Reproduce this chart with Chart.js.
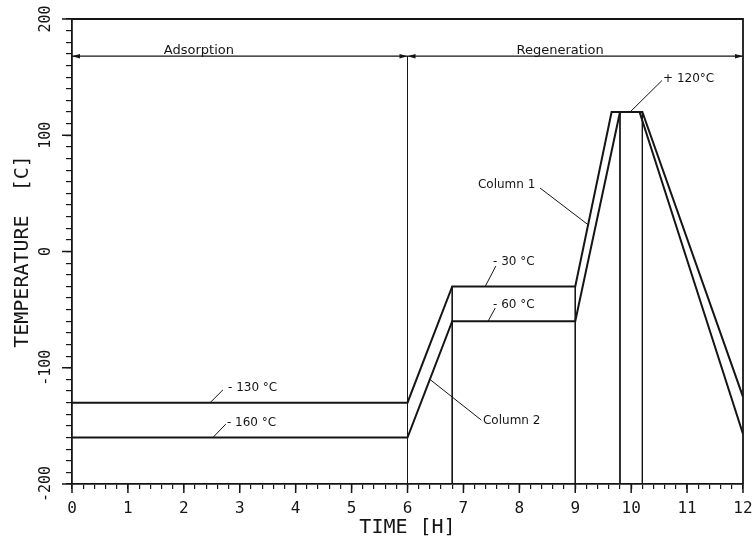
<!DOCTYPE html>
<html>
<head>
<meta charset="utf-8">
<script src="https://cdn.jsdelivr.net/npm/chart.js@4.4.0/dist/chart.umd.min.js"></script>
<style>
  html, body { margin: 0; padding: 0; background: #fff; }
</style>
</head>
<body>
<canvas id="grafico" width="752" height="541"></canvas>
<script>
// Dados (tempo em horas, temperatura em °C)
const col1X = [0, 6, 6.8, 9, 9.65, 10.2, 12];
const col1Y = [-130, -130, -30, -30, 120, 120, -125];
const col2X = [0, 6, 6.8, 9, 9.8, 10.15, 12];
const col2Y = [-160, -160, -60, -60, 120, 120, -157];

// Linhas verticais finas (x, topo)
const guiaX = [6, 6.8, 9, 9.8, 10.2];
const guiaTopo = [168, -30, -30, 120, 120];

// Faixa de fases no alto
const faseY = 168;
const faseLimites = [0, 6, 12];
const faseNomes = ['Adsorption', 'Regeneration'];
const faseTextoX = [2.27, 8.73];
const faseTextoY = 172.5;

// Rótulos dos eixos
const xTickLabels = ['0', '1', '2', '3', '4', '5', '6', '7', '8', '9', '10', '11', '12'];
const yTickLabels = { '-200': '-200', '-100': '-100', '0': '0', '100': '100', '200': '200' };

// Anotações (texto, ponto do texto, linha de chamada)
const anotTexto = ['- 130 °C', '- 160 °C', '- 30 °C', '- 60 °C', 'Column 2', 'Column 1', '+ 120°C'];
const anotX = [2.79, 2.77, 7.53, 7.53, 7.35, 7.26, 10.57];
const anotY = [-117.5, -147.5, -9, -46, -145.8, 57, 148.4];
const chamadaX = [[2.47, 2.70], [2.52, 2.75], [7.39, 7.58], [7.44, 7.57], [6.4, 7.32], [8.37, 9.23], [9.98, 10.55]];
const chamadaY = [[-130, -119], [-160, -148.5], [-30, -12.5], [-60, -48.6], [-110, -145], [54.6, 23], [120, 147]];

const PRETO = '#151515';
const MONO = '"DejaVu Sans Mono", monospace';
const SANS = '"DejaVu Sans", sans-serif';

function pontos(xs, ys) {
    return xs.map((x, i) => ({ x: x, y: ys[i] }));
}

const datasets = [];

// 1. As duas colunas
datasets.push({ label: 'Column 1', data: pontos(col1X, col1Y), borderColor: PRETO, borderWidth: 2, pointRadius: 0, tension: 0 });
datasets.push({ label: 'Column 2', data: pontos(col2X, col2Y), borderColor: PRETO, borderWidth: 2, pointRadius: 0, tension: 0 });

// 2. Linhas verticais
guiaX.forEach((gx, i) => {
    datasets.push({ label: 'guia', data: [{ x: gx, y: guiaTopo[i] }, { x: gx, y: -200 }], borderColor: PRETO, borderWidth: 1, pointRadius: 0 });
});

// 3. Linhas das fases (com setas)
for (let i = 0; i < faseLimites.length - 1; i++) {
    datasets.push({ label: 'fase', data: [{ x: faseLimites[i], y: faseY }, { x: faseLimites[i + 1], y: faseY }], borderColor: PRETO, borderWidth: 1.3, pointRadius: 0 });
}

// 4. Linhas de chamada das anotações
chamadaX.forEach((cx, i) => {
    datasets.push({ label: 'chamada', data: pontos(cx, chamadaY[i]), borderColor: PRETO, borderWidth: 1, pointRadius: 0 });
});

// Plugin com moldura, ticks maiores, setas e textos
const detalhes = {
    id: 'detalhes',
    afterDatasetsDraw(chart) {
        const ctx = chart.ctx;
        const area = chart.chartArea;
        const sx = chart.scales.x;
        const sy = chart.scales.y;
        ctx.save();
        ctx.strokeStyle = PRETO;
        ctx.fillStyle = PRETO;

        // moldura de cima e da direita
        ctx.lineWidth = 1.8;
        ctx.beginPath();
        ctx.moveTo(area.left, area.top);
        ctx.lineTo(area.right, area.top);
        ctx.lineTo(area.right, area.bottom);
        ctx.stroke();

        // ticks maiores
        ctx.lineWidth = 1.5;
        xTickLabels.forEach((t, i) => {
            const px = sx.getPixelForValue(i);
            ctx.beginPath();
            ctx.moveTo(px, area.bottom);
            ctx.lineTo(px, area.bottom + 9);
            ctx.stroke();
        });
        Object.keys(yTickLabels).forEach(k => {
            const py = sy.getPixelForValue(Number(k));
            ctx.beginPath();
            ctx.moveTo(area.left, py);
            ctx.lineTo(area.left - 10, py);
            ctx.stroke();
        });

        // setas nas linhas das fases
        chart.data.datasets.forEach((ds, di) => {
            if (ds.label !== 'fase') return;
            const pts = chart.getDatasetMeta(di).data;
            const a = pts[0], b = pts[pts.length - 1];
            seta(ctx, a.x, a.y, -1);
            seta(ctx, b.x, b.y, 1);
        });

        // textos das fases
        ctx.font = '13px ' + SANS;
        ctx.textAlign = 'center';
        ctx.textBaseline = 'middle';
        faseNomes.forEach((n, i) => {
            ctx.fillText(n, sx.getPixelForValue(faseTextoX[i]), sy.getPixelForValue(faseTextoY));
        });

        // anotações
        ctx.font = '12px ' + SANS;
        ctx.textAlign = 'left';
        anotTexto.forEach((t, i) => {
            ctx.fillText(t, sx.getPixelForValue(anotX[i]), sy.getPixelForValue(anotY[i]));
        });
        ctx.restore();
    }
};

function seta(ctx, x, y, dir) {
    // ponta no ponto (x, y), apontando para dir
    ctx.beginPath();
    ctx.moveTo(x, y);
    ctx.lineTo(x - dir * 8, y - 2.2);
    ctx.lineTo(x - dir * 8, y + 2.2);
    ctx.closePath();
    ctx.fill();
}

new Chart(document.getElementById('grafico'), {
    type: 'line',
    data: { datasets: datasets },
    options: {
        responsive: false,
        animation: false,
        layout: { padding: { left: 0, top: 19, right: 0, bottom: 0 } },
        plugins: { legend: { display: false }, tooltip: { enabled: false } },
        scales: {
            x: {
                type: 'linear',
                min: 0,
                max: 12,
                afterFit: s => { s.height = 57; s.paddingRight = 9; },
                border: { display: true, color: PRETO, width: 1.8 },
                grid: { drawOnChartArea: false, drawTicks: true, tickLength: 5, color: PRETO, lineWidth: 1.2 },
                ticks: {
                    stepSize: 0.2,
                    autoSkip: false,
                    maxRotation: 0,
                    minRotation: 0,
                    padding: 10,
                    color: PRETO,
                    font: { family: MONO, size: 16 },
                    callback: v => {
                        const r = Math.round(v);
                        return Math.abs(v - r) < 1e-6 ? xTickLabels[r] : '';
                    }
                },
                title: { display: true, text: 'TIME [H]', color: PRETO, font: { family: MONO, size: 20 }, padding: { top: 0, bottom: 1 } }
            },
            y: {
                type: 'linear',
                min: -200,
                max: 200,
                afterFit: s => { s.width = 72; },
                border: { display: true, color: PRETO, width: 1.8 },
                grid: { drawOnChartArea: false, drawTicks: true, tickLength: 6, color: PRETO, lineWidth: 1.2 },
                ticks: {
                    stepSize: 10,
                    autoSkip: false,
                    minRotation: 90,
                    maxRotation: 90,
                    crossAlign: 'center',
                    padding: 2,
                    color: PRETO,
                    font: { family: MONO, size: 15 },
                    callback: v => {
                        const r = Math.round(v);
                        return (r % 100 === 0 && yTickLabels[String(r)]) ? yTickLabels[String(r)] : '';
                    }
                },
                title: { display: true, text: 'TEMPERATURE  [C]', color: PRETO, font: { family: MONO, size: 20 }, padding: { top: 11, bottom: 0 } }
            }
        }
    },
    plugins: [detalhes]
});
</script>
</body>
</html>
